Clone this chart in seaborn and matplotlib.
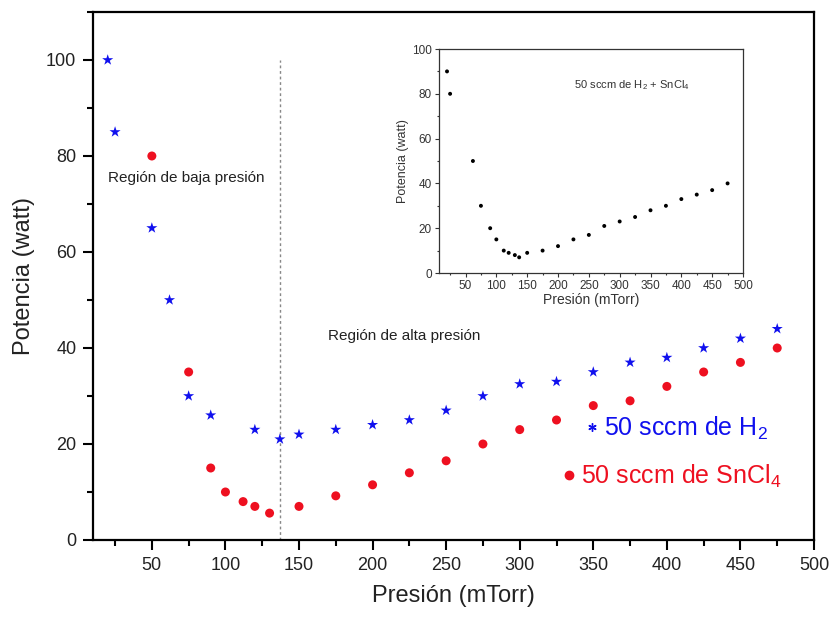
import numpy as np
import pandas as pd
import matplotlib
matplotlib.use("Agg")
import matplotlib.pyplot as plt
from matplotlib.lines import Line2D
from matplotlib.ticker import MultipleLocator
import seaborn as sns

# --- data ---
h2_x = [20, 25, 50, 62, 75, 90, 120, 137, 150, 175, 200, 225, 250, 275, 300, 325, 350, 375, 400, 425, 450, 475]
h2_y = [100, 85, 65, 50, 30, 26, 23, 21, 22, 23, 24, 25, 27, 30, 32.5, 33, 35, 37, 38, 40, 42, 44]

sn_x = [50, 75, 90, 100, 112, 120, 130, 150, 175, 200, 225, 250, 275, 300, 325, 350, 375, 400, 425, 450, 475]
sn_y = [80, 35, 15, 10, 8, 7, 5.6, 7, 9.2, 11.5, 14, 16.5, 20, 23, 25, 28, 29, 32, 35, 37, 40]

mix_x = [20, 25, 62, 75, 90, 100, 112, 120, 130, 137, 150, 175, 200, 225, 250, 275, 300, 325, 350, 375, 400, 425, 450, 475]
mix_y = [90, 80, 50, 30, 20, 15, 10, 9, 8, 7, 9, 10, 12, 15, 17, 21, 23, 25, 28, 30, 33, 35, 37, 40]

boundary_x = 137
main_xticks = [50, 100, 150, 200, 250, 300, 350, 400, 450, 500]
main_yticks = [0, 20, 40, 60, 80, 100]

df_h2 = pd.DataFrame({"x": h2_x, "y": h2_y})
df_sn = pd.DataFrame({"x": sn_x, "y": sn_y})
df_mix = pd.DataFrame({"x": mix_x, "y": mix_y})

sns.set_theme(style="white")
plt.rcParams["font.family"] = ["Liberation Sans", "DejaVu Sans"]
plt.rcParams["mathtext.fontset"] = "custom"
plt.rcParams["mathtext.rm"] = "Liberation Sans"
plt.rcParams["mathtext.it"] = "Liberation Sans"

fig = plt.figure(figsize=(8.33, 6.19), dpi=100)
ax = fig.add_axes([93/833, 1-540/619, (814-93)/833, (540-12)/619])

sns.scatterplot(data=df_h2, x="x", y="y", ax=ax, marker="*", color="#1010ee",
                s=70, edgecolor="none", linewidth=0, legend=False, zorder=3)
sns.scatterplot(data=df_sn, x="x", y="y", ax=ax, marker="o", color="#ee1020",
                s=42, edgecolor="none", linewidth=0, legend=False, zorder=3)

ax.vlines(boundary_x, 0, 100, colors="#888888", linestyles=(0, (2, 2)), linewidth=1.0, zorder=1)

ax.set_xlim(10, 500)
ax.set_ylim(0, 110)
ax.set_xticks(main_xticks)
ax.set_yticks(main_yticks)
ax.xaxis.set_minor_locator(MultipleLocator(25))
ax.yaxis.set_minor_locator(MultipleLocator(10))
ax.tick_params(axis="both", which="major", direction="out", length=7, width=1.5,
               labelsize=13, color="black", labelcolor="#222222", pad=5)
ax.tick_params(axis="both", which="minor", direction="out", length=4, width=1.5, color="black")
ax.tick_params(bottom=True, left=True, which="both")
for sp in ax.spines.values():
    sp.set_linewidth(1.6)
    sp.set_color("black")
ax.set_xlabel("Presión (mTorr)", fontsize=17, color="#222222", labelpad=8)
ax.set_ylabel("Potencia (watt)", fontsize=17, color="#222222", labelpad=8)

ax.text(20, 74.5, "Región de baja presión", fontsize=11, color="#222222", va="baseline")
ax.text(170, 41.7, "Región de alta presión", fontsize=11, color="#222222", va="baseline")

h_h2 = Line2D([], [], linestyle="none", marker=(6, 2, 0), color="#1010ee", markersize=6, markeredgewidth=1.0)
h_sn = Line2D([], [], linestyle="none", marker="o", color="#ee1020", markersize=6)
leg1 = ax.legend(handles=[h_h2], labels=["50 sccm de H$_2$"], loc="center left",
                 bbox_to_anchor=((579 - 93)/721, (540-428)/528), bbox_transform=ax.transAxes,
                 frameon=False, fontsize=18, labelcolor="#1010ee", handletextpad=0.0,
                 handlelength=1.0, borderpad=0, borderaxespad=0)
ax.add_artist(leg1)
leg2 = ax.legend(handles=[h_sn], labels=["50 sccm de SnCl$_4$"], loc="center left",
                 bbox_to_anchor=((556 - 93)/721, (540-476)/528), bbox_transform=ax.transAxes,
                 frameon=False, fontsize=18, labelcolor="#ee1020", handletextpad=0.0,
                 handlelength=1.0, borderpad=0, borderaxespad=0)

# --- inset ---
axi = fig.add_axes([439/833, 1-273/619, (743-439)/833, (273-49)/619])
sns.scatterplot(data=df_mix, x="x", y="y", ax=axi, marker="o", color="black",
                s=8, edgecolor="none", linewidth=0, legend=False)
axi.set_xlim(7, 500)
axi.set_ylim(0, 100)
axi.set_xticks(main_xticks)
axi.set_yticks(main_yticks)
axi.xaxis.set_minor_locator(MultipleLocator(25))
axi.yaxis.set_minor_locator(MultipleLocator(10))
axi.tick_params(axis="both", which="major", direction="out", length=3, width=0.8,
                labelsize=8.5, color="#333333", labelcolor="#333333", pad=2)
axi.tick_params(axis="both", which="minor", direction="out", length=1.5, width=0.8, color="#333333")
axi.tick_params(bottom=True, left=True, which="both")
for sp in axi.spines.values():
    sp.set_linewidth(0.9)
    sp.set_color("#333333")
axi.set_xlabel("Presión (mTorr)", fontsize=10, color="#333333", labelpad=1)
axi.set_ylabel("Potencia (watt)", fontsize=9, color="#333333", labelpad=2)
axi.text(0.445, 0.84, "50 sccm de H$_2$ + SnCl$_4$", transform=axi.transAxes,
         fontsize=8, color="#333333", va="center")

fig.savefig("out.png", dpi=100)
